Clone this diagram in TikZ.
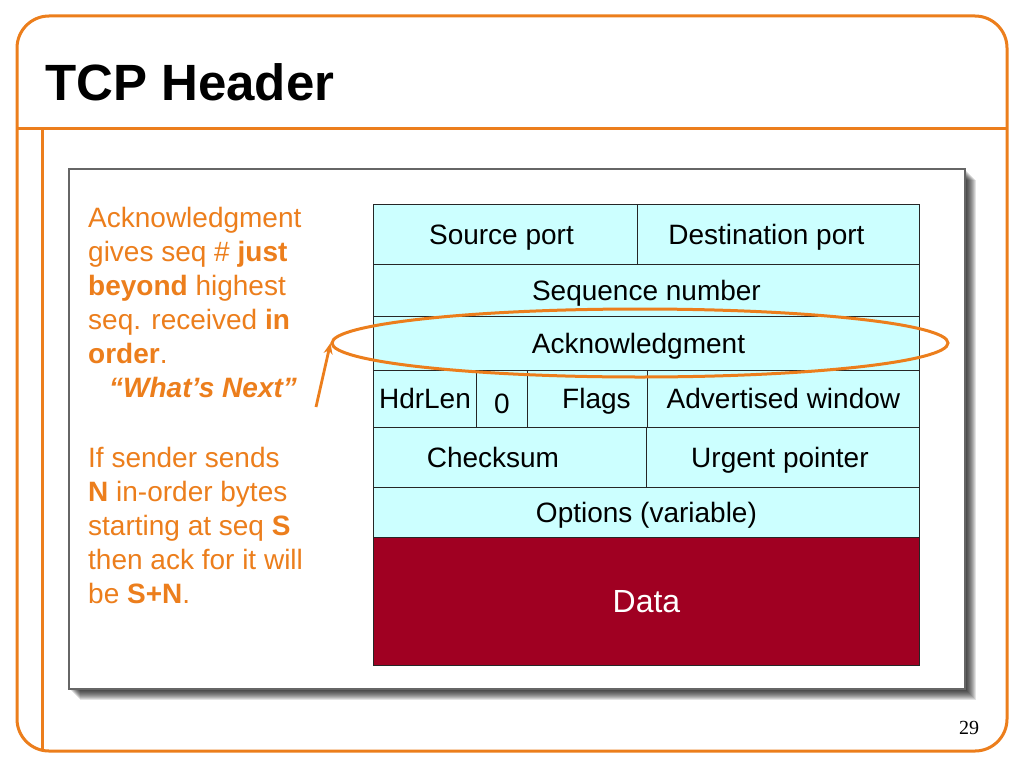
\documentclass[tikz,border=0pt]{standalone}
\usepackage{fontspec}
\setmainfont{Liberation Sans}
\newfontfamily\pagenumfont{Liberation Serif}
\usetikzlibrary{arrows.meta,shapes.geometric}
\definecolor{orng}{RGB}{236,126,28}
\definecolor{cyanfill}{RGB}{204,255,255}
\definecolor{datared}{RGB}{160,0,34}
\begin{document}
\begin{tikzpicture}[x=1pt,y=-1pt,
  frameline/.style={draw=orng, line width=3pt},
  cell/.style={draw=black!85, fill=cyanfill, line width=0.9pt, inner sep=0pt,
    anchor=north west, text height=21pt, text depth=1pt,
    font=\fontsize{28}{33}\selectfont},
  datacell/.style={cell, fill=datared, text=white, text height=23pt, text depth=1pt,
    font=\fontsize{32}{38}\selectfont},
  note/.style={anchor=north west, align=left, inner sep=0pt, text=orng,
    font=\fontsize{28}{34}\selectfont},
  marker/.style={draw=orng, line width=3pt},
]
\useasboundingbox (0,0) rectangle (1024,768);
\fill[white] (0,0) rectangle (1024,768);
% frame
\draw[frameline, rounded corners=32pt] (17,16) rectangle (1007,751);
\draw[frameline] (17,128) -- (1007,128);
\draw[frameline] (42,128) -- (42,751);
\node[anchor=base west, inner sep=0pt, font=\bfseries\fontsize{51}{60}\selectfont] (title) at (45,100) {TCP Header};
% content box with shadow
\foreach \d in {2,3,...,11} {
  \fill[black, opacity=0.11] (69+\d,169+\d) rectangle (965+\d,689+\d);
}
\draw[draw=black!60, fill=white, line width=1.2pt] (69,169) rectangle (965,689);
% header cells
\node[cell, minimum width=264pt, minimum height=60pt] (src) at (373,204) {Source port\hspace*{8pt}};
\node[cell, minimum width=282pt, minimum height=60pt] (dst) at (637,204) {Destination port\hspace*{24pt}};
\node[cell, minimum width=546pt, minimum height=52pt] (seq) at (373,264) {Sequence number};
\node[cell, minimum width=546pt, minimum height=54pt] (ack) at (373,316) {Acknowledgment\hspace*{16pt}};
\node[cell, minimum width=103pt, minimum height=57pt] (hdr) at (373,370) {HdrLen};
\node[cell, minimum width=51pt, minimum height=57pt] (zero) at (476,370) {\raisebox{-5pt}{0}};
\node[cell, minimum width=120pt, minimum height=57pt] (flags) at (527,370) {\hspace*{18pt}Flags};
\node[cell, minimum width=272pt, minimum height=57pt] (adv) at (647,370) {Advertised window};
\node[cell, minimum width=273pt, minimum height=60pt] (chk) at (373,427) {Checksum\hspace*{34pt}};
\node[cell, minimum width=273pt, minimum height=60pt] (urg) at (646,427) {Urgent pointer\hspace*{6pt}};
\node[cell, minimum width=546pt, minimum height=50pt] (opt) at (373,487) {Options (variable)};
\node[datacell, minimum width=546pt, minimum height=128pt] (data) at (373,537) {Data};
% highlight ellipse and arrow
\node[ellipse, marker, minimum width=616pt, minimum height=68pt, inner sep=0pt] (oval) at (640,343) {};
\coordinate (arrowstart) at (316,407);
\draw[marker, line width=2.8pt, -{Stealth[length=11pt,width=9pt]}] (arrowstart) -- (oval.west);
% notes
\node[note] (note1) at (88,207) {Acknowledgment\\
gives seq \# \textbf{just}\\
\textbf{beyond} highest\\
seq. received \textbf{in}\\
\textbf{order}.\\
\hspace*{21pt}\textbf{\textit{“What’s Next”}}};
\node[note] (note2) at (88,447) {If sender sends\\
\textbf{N} in-order bytes\\
starting at seq \textbf{S}\\
then ack for it will\\
be \textbf{S+N}.};
\node[anchor=base, inner sep=0pt, font=\pagenumfont\fontsize{20}{24}\selectfont] (pagenum) at (969,734) {29};
\end{tikzpicture}
\end{document}
